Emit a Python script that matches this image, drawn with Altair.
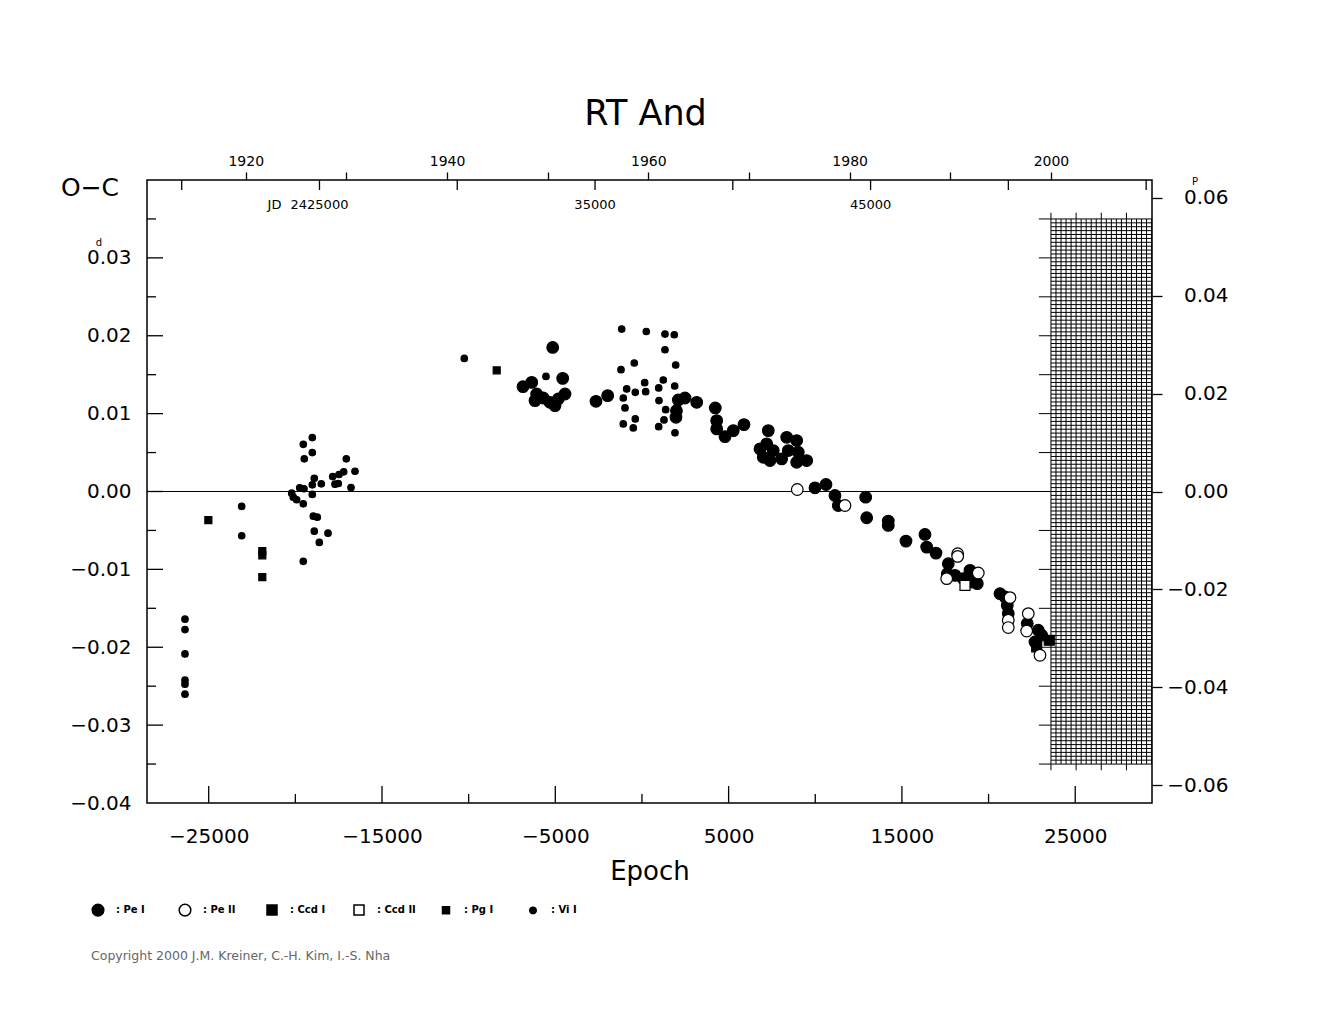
import altair as alt
import numpy as np
import pandas as pd

FONT = "DejaVu Sans"
P = 0.62893
T0 = 2436703.0
XMIN, XMAX = -28560, 29430
YMIN, YMAX = -0.04, 0.04
W, H = 1005, 623

TYPES = ["Pe I", "Pe II", "Ccd I", "Ccd II", "Pg I", "Vi I"]

# ---- observations (epoch, O-C in days) ----
pe1_e = [-6865, -6363, -6074, -6173, -5694, -5307, -5018, -4441, -4828, -5151, -4574,
         -2653, -1978, 2096, 2483, 3158, 1963, 1990, 4231, 4312, 4791, 5269, 5887, 4312,
         7289, 7197, 7000, 7387, 7577, 8062, 8351, 8443, 8928, 9020, 8928, 9505, 6810,
         9984, 10618, 11137, 11328, 12909, 12967, 14213, 14213, 15234, 16331, 16429, 16965,
         17675, 17617, 18062, 18540, 18927, 19348, 19025, 20658, 20946, 21079, 21137,
         22233, 22868, 23064, 22678]
pe1_oc = [0.01346, 0.01401, 0.01252, 0.01167, 0.01201, 0.01145, 0.01103, 0.01252, 0.01188, 0.0185, 0.01453,
          0.01158, 0.01231, 0.01176, 0.01201, 0.01145, 0.00953, 0.01038, 0.01073, 0.0091, 0.00705, 0.00782, 0.00859, 0.00804,
          0.00782, 0.00612, 0.0044, 0.00397, 0.00526, 0.00419, 0.00696, 0.00526, 0.00654, 0.00504, 0.00376, 0.00397, 0.00547,
          0.00047, 0.0009, -0.00051, -0.0018, -0.00073, -0.00337, -0.0038, -0.00436, -0.00637, -0.00551, -0.00714, -0.00791,
          -0.00927, -0.01055, -0.01077, -0.01119, -0.01013, -0.01183, -0.01162, -0.01312, -0.01355, -0.01462, -0.01568,
          -0.01696, -0.01782, -0.01846, -0.01932]

pe2_e = [8962, 11715, 18217, 18217, 17583, 19406, 21235, 21137, 21137, 22291, 22199, 22966]
pe2_oc = [0.00026, -0.0018, -0.00799, -0.00833, -0.01119, -0.01047, -0.01363, -0.01654, -0.01747, -0.01568, -0.01791, -0.02103]

ccd1_e = [23503, 22776]
ccd1_oc = [-0.0191, -0.01996]

ccd2_e = [18639]
ccd2_oc = [-0.01205]

pg1_e = [-25020, -21907, -21907, -21907, -8382]
pg1_oc = [-0.00368, -0.00765, -0.0082, -0.011, 0.01555]

vi1_e = [-26368, -26368, -26368, -26368, -26368, -26368, -23096, -23096,
         -19542, -19022, -19022, -19484, -17060, -16558, -17845, -17482, -17210, -18907,
         -18503, -19022, -17712, -17522, -16789, -19749, -19501, -19022, -20211, -20119,
         -19922, -19542, -18965, -18734, -18907, -18116, -18618, -19542,
         -10252, -5538,
         -1170, 250, 1329, 1865, 1329, -443, -1210, 1946, 157, 1230, -881, -385, 215, 965,
         1888, -1078, 982, -979, 1369, -385, 1271, -1078, -501, 965, 1905]
vi1_oc = [-0.0164, -0.01773, -0.02086, -0.02423, -0.02474, -0.02603, -0.00192, -0.00568,
          0.00606, 0.00692, 0.0050, 0.00419, 0.00419, 0.0026, 0.00192, 0.00218, 0.00253, 0.0017,
          0.00099, 0.00086, 0.00094, 0.00103, 0.00051, 0.00047, 0.00035, -0.00038, -0.00022, -0.00073,
          -0.00106, -0.00158, -0.00317, -0.0033, -0.00509, -0.00535, -0.00654, -0.00897,
          0.01709, 0.01478,
          0.02086, 0.02055, 0.02022, 0.02013, 0.0182, 0.0165, 0.01564, 0.01624, 0.01397, 0.01432, 0.01317, 0.01273, 0.01282, 0.0133,
          0.01355, 0.01201, 0.01167, 0.01073, 0.01051, 0.00932, 0.00919, 0.00868, 0.00817, 0.00833, 0.00753]

# ---- axis / tick values ----
bottom_labels = [-25000, -15000, -5000, 5000, 15000, 25000]
bottom_minor = [-20000, -10000, 0, 10000, 20000]
left_labels = [0.03, 0.02, 0.01, 0.0, -0.01, -0.02, -0.03, -0.04]
left_major = [0.03, 0.02, 0.01, 0.0, -0.01, -0.02, -0.03]
left_minor = [0.035, 0.025, 0.015, 0.005, -0.005, -0.015, -0.025, -0.035]
right_labels = [0.06, 0.04, 0.02, 0.0, -0.02, -0.04, -0.06]
year_ticks = [1920, 1930, 1940, 1950, 1960, 1970, 1980, 1990, 2000]
jd_ticks = [2420000, 2425000, 2430000, 2435000, 2440000, 2445000, 2450000, 2455000]
jd_label_vals = [2425000, 2435000, 2445000]
jd_label_txt = ["2425000", "35000", "45000"]


def jd2e(jd):
    return (jd - T0) / P


def yr2jd(y):
    return 2415020.5 + (y - 1900) * 365.25


def e2yr(e):
    return 1900 + (T0 + P * e - 2415020.5) / 365.25


rows = []
for t, es, ocs in [("Vi I", vi1_e, vi1_oc), ("Pg I", pg1_e, pg1_oc), ("Pe I", pe1_e, pe1_oc),
                   ("Ccd I", ccd1_e, ccd1_oc), ("Pe II", pe2_e, pe2_oc), ("Ccd II", ccd2_e, ccd2_oc)]:
    for e, o in zip(es, ocs):
        rows.append({"type": t, "epoch": e, "oc": o})
df = pd.DataFrame(rows)

xs = alt.Scale(domain=[XMIN, XMAX], nice=False, zero=False)
ys = alt.Scale(domain=[YMIN, YMAX], nice=False, zero=False)

leg = alt.Legend(labelExpr="': ' + datum.label", title=None)

points = alt.Chart(df).mark_point(filled=True, opacity=1, strokeWidth=1.2).encode(
    x=alt.X("epoch:Q", scale=xs, axis=alt.Axis(
        orient="bottom", values=bottom_labels, format="d", ticks=False, tickSize=0, domain=False,
        grid=False, labelFontSize=20, labelFont=FONT, labelColor="black", labelPadding=23,
        title="Epoch", titleFontSize=26, titleFont=FONT, titleFontWeight="normal",
        titlePadding=12, titleColor="black")),
    y=alt.Y("oc:Q", scale=ys, axis=alt.Axis(
        orient="left", values=left_labels, format=".2f", ticks=False, tickSize=0, domain=False,
        grid=False, labelFontSize=20, labelFont=FONT, labelColor="black", labelPadding=16,
        title=None)),
    shape=alt.Shape("type:N", scale=alt.Scale(domain=TYPES, range=["circle", "circle", "square", "square", "square", "circle"]), legend=leg),
    fill=alt.Fill("type:N", scale=alt.Scale(domain=TYPES, range=["black", "white", "black", "white", "black", "black"]), legend=leg),
    stroke=alt.Stroke("type:N", scale=alt.Scale(domain=TYPES, range=["black"] * 6), legend=leg),
    size=alt.Size("type:N", scale=alt.Scale(type="ordinal", domain=TYPES, range=[135, 135, 100, 100, 49, 42]), legend=leg),
)

zero = alt.Chart(pd.DataFrame({"y": [0.0]})).mark_rule(color="black", strokeWidth=1).encode(
    y=alt.Y("y:Q", scale=ys, axis=None))

tick_style = dict(color="black", strokeWidth=1.3)
bt_long = alt.Chart(pd.DataFrame({"e": bottom_labels})).mark_rule(**tick_style).encode(
    x=alt.X("e:Q", scale=xs, axis=None), y=alt.value(H), y2=alt.value(H - 17))
bt_short = alt.Chart(pd.DataFrame({"e": bottom_minor})).mark_rule(**tick_style).encode(
    x=alt.X("e:Q", scale=xs, axis=None), y=alt.value(H), y2=alt.value(H - 9))
lt_long = alt.Chart(pd.DataFrame({"v": left_major})).mark_rule(**tick_style).encode(
    y=alt.Y("v:Q", scale=ys, axis=None), x=alt.value(0), x2=alt.value(16))
lt_short = alt.Chart(pd.DataFrame({"v": left_minor})).mark_rule(**tick_style).encode(
    y=alt.Y("v:Q", scale=ys, axis=None), x=alt.value(0), x2=alt.value(9))

jd_df = pd.DataFrame({"e": [jd2e(j) for j in jd_ticks]})
jd_tk = alt.Chart(jd_df).mark_rule(**tick_style).encode(
    x=alt.X("e:Q", scale=xs, axis=None), y=alt.value(0), y2=alt.value(10))
jdl_df = pd.DataFrame({"e": [jd2e(j) for j in jd_label_vals], "t": jd_label_txt})
jd_lab = alt.Chart(jdl_df).mark_text(font=FONT, fontSize=13, color="black", baseline="middle").encode(
    x=alt.X("e:Q", scale=xs, axis=None), y=alt.value(25), text="t:N")
jd_pref = alt.Chart(jdl_df.iloc[:1]).mark_text(font=FONT, fontSize=13, color="black", baseline="middle",
                                             align="right", dx=-38).encode(
    x=alt.X("e:Q", scale=xs, axis=None), y=alt.value(25), text=alt.value("JD"))

yr_dom = [e2yr(XMIN), e2yr(XMAX)]
years = alt.Chart(pd.DataFrame({"year": year_ticks})).mark_point(opacity=0).encode(
    x=alt.X("year:Q", scale=alt.Scale(domain=yr_dom, nice=False, zero=False), axis=alt.Axis(
        orient="top", values=year_ticks, labelExpr="datum.value % 20 == 0 ? datum.value : ''",
        tickSize=8, tickColor="black", tickWidth=1.3, domain=False, grid=False,
        labelFontSize=14, labelFont=FONT, labelColor="black", labelPadding=4, title=None)))

right = alt.Chart(pd.DataFrame({"p": right_labels})).mark_point(opacity=0).encode(
    y=alt.Y("p:Q", scale=alt.Scale(domain=[YMIN / P, YMAX / P], nice=False, zero=False), axis=alt.Axis(
        orient="right", values=right_labels, format=".2f", tickSize=10, tickColor="black",
        tickWidth=1.3, domain=False, grid=False, labelFontSize=20, labelFont=FONT,
        labelColor="black", labelAlign="right", labelPadding=66, title=None)))

# ---- hatched future area (from year 2000) ----
E2000 = jd2e(yr2jd(2000))
gv_years = np.arange(2000, 2010.01, 0.5)
gv = alt.Chart(pd.DataFrame({"e": [jd2e(yr2jd(y)) for y in gv_years], "a": 0.035, "b": -0.035})).mark_rule(
    color="black", strokeWidth=1).encode(
    x=alt.X("e:Q", scale=xs, axis=None), y=alt.Y("a:Q", scale=ys, axis=None), y2="b:Q")
gh_vals = np.round(np.arange(-0.035, 0.03501, 0.0005), 5)
gh = alt.Chart(pd.DataFrame({"v": gh_vals, "a": E2000, "b": XMAX})).mark_rule(
    color="black", strokeWidth=1).encode(
    y=alt.Y("v:Q", scale=ys, axis=None), x=alt.X("a:Q", scale=xs, axis=None), x2="b:Q")
gt_years = [2000, 2002.5, 2005, 2007.5]
gt_e = [jd2e(yr2jd(y)) for y in gt_years]
gt = alt.Chart(pd.DataFrame({"e": gt_e * 2, "a": [0.035] * 4 + [-0.035] * 4,
                             "b": [0.0358] * 4 + [-0.0358] * 4})).mark_rule(color="black", strokeWidth=1).encode(
    x=alt.X("e:Q", scale=xs, axis=None), y=alt.Y("a:Q", scale=ys, axis=None), y2="b:Q")
gl_vals = np.round(np.arange(-0.035, 0.03501, 0.005), 4)
gl = alt.Chart(pd.DataFrame({"v": gl_vals, "a": E2000 - 700, "b": E2000})).mark_rule(
    color="black", strokeWidth=1).encode(
    y=alt.Y("v:Q", scale=ys, axis=None), x=alt.X("a:Q", scale=xs, axis=None), x2="b:Q")

# ---- texts ----
title = alt.Chart(pd.DataFrame({"t": ["RT  And"]})).mark_text(
    font=FONT, fontSize=35, color="black", baseline="middle").encode(
    x=alt.value(W / 2 - 4), y=alt.value(-66), text="t:N")
oc_lab = alt.Chart(pd.DataFrame({"t": ["O\u2212C"]})).mark_text(
    font=FONT, fontSize=25, color="black", baseline="middle").encode(
    x=alt.value(-57), y=alt.value(8), text="t:N")
copy_lab = alt.Chart(pd.DataFrame({"t": ["Copyright 2000 J.M. Kreiner, C.-H. Kim, I.-S. Nha"]})).mark_text(
    font=FONT, fontSize=12.5, color="#666666", align="left", baseline="middle").encode(
    x=alt.value(-56), y=alt.value(776), text="t:N")
sup_d = alt.Chart(pd.DataFrame({"y": [0.03], "t": ["d"]})).mark_text(
    font=FONT, fontSize=10, color="black", baseline="middle", dy=-15).encode(
    x=alt.value(-48), y=alt.Y("y:Q", scale=ys, axis=None), text="t:N")
sup_p = alt.Chart(pd.DataFrame({"y": [0.06 * P], "t": ["P"]})).mark_text(
    font=FONT, fontSize=10, color="black", baseline="middle", dy=-16).encode(
    x=alt.value(1048), y=alt.Y("y:Q", scale=ys, axis=None), text="t:N")

chart = alt.layer(
    gv, gh, gt, gl, zero, bt_long, bt_short, lt_long, lt_short, jd_tk, jd_lab, jd_pref,
    years, right, points, title, oc_lab, copy_lab, sup_d, sup_p
).resolve_scale(x="independent", y="independent").properties(
    width=W, height=H,
    autosize=alt.AutoSizeParams(type="none"),
    padding={"left": 147, "top": 180, "right": 173, "bottom": 217},
).configure(background="white").configure_view(
    stroke="black", strokeWidth=1.5
).configure_legend(
    orient="none", legendX=-56, legendY=723, direction="horizontal", columns=6,
    gridAlign="all", columnPadding=21, labelFontSize=10, labelFont=FONT, labelFontWeight="bold",
    labelColor="black", labelOffset=11, symbolStrokeWidth=1.5, padding=0
)

chart.save("out.html", embed_options={"renderer": "svg", "actions": False})
